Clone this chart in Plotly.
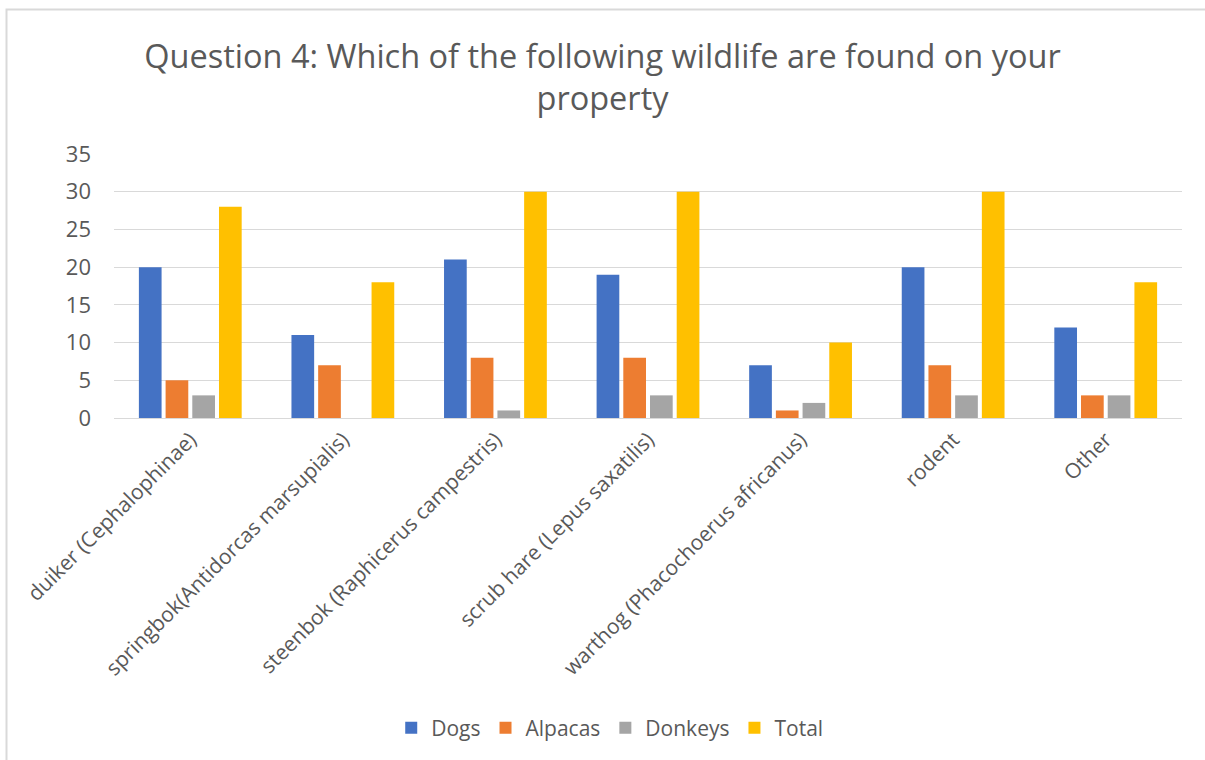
import plotly.graph_objects as go

categories = [
    "duiker (Cephalophinae)",
    "springbok(Antidorcas marsupialis)",
    "steenbok (Raphicerus campestris)",
    "scrub hare (Lepus saxatilis)",
    "warthog (Phacochoerus africanus)",
    "rodent",
    "Other",
]
dogs = [20, 11, 21, 19, 7, 20, 12]
alpacas = [5, 7, 8, 8, 1, 7, 3]
donkeys = [3, 0, 1, 3, 2, 3, 3]
total = [28, 18, 30, 30, 10, 30, 18]

series = [
    ("Dogs", dogs, "#4472C4"),
    ("Alpacas", alpacas, "#ED7D31"),
    ("Donkeys", donkeys, "#A5A5A5"),
    ("Total", total, "#FFC000"),
]

FONT = "Open Sans"
GRAY = "#595959"

fig = go.Figure()
for name, vals, color in series:
    fig.add_trace(go.Bar(name=name, x=categories, y=vals, marker_color=color,
                         marker_line_width=0))

W, H = 1205, 760
L, R, T, B = 114, 1182, 154, 418
pw, ph = R - L, B - T

def px(x):
    return (x - L) / pw

def py(y):
    return (B - y) / ph

fig.update_layout(
    width=W, height=H,
    margin=dict(l=L, r=W - R, t=T, b=H - B, autoexpand=False),
    paper_bgcolor="white", plot_bgcolor="white",
    barmode="group", bargap=0.3, bargroupgap=0.15,
    font=dict(family=FONT, color=GRAY),
    title=dict(text="Question 4: Which of the following wildlife are found on your<br>property",
               x=0.5, xref="container", xanchor="center", y=1 - 68 / H, yanchor="middle",
               font=dict(size=32.5, color=GRAY, family=FONT)),
    showlegend=True,
    legend=dict(orientation="h", x=0.506, xref="container", xanchor="center",
                y=py(728), yanchor="middle", itemwidth=30,
                font=dict(size=21, color=GRAY, family=FONT),
                traceorder="normal"),
    xaxis=dict(tickangle=-45, tickfont=dict(size=21, color=GRAY, family=FONT),
               showgrid=False, showline=True, linecolor="#d9d9d9", linewidth=1,
               ticks=""),
    yaxis=dict(range=[0, 35], dtick=5, tickfont=dict(size=22, color=GRAY, family=FONT),
               showgrid=True, gridcolor="#d9d9d9", gridwidth=1.3, zeroline=True,
               zerolinecolor="#d9d9d9", zerolinewidth=1.3, showline=False, ticks="",
               ticklabelstandoff=22),
    shapes=[dict(type="rect", xref="paper", yref="paper",
                 x0=px(6.5), x1=px(1230), y0=py(9.5), y1=py(800),
                 line=dict(color="#d9d9d9", width=2), layer="below")],
)

fig.write_html("out.html", config={"displayModeBar": False},
               post_script="document.body.style.margin='0';document.body.style.padding='0';")
